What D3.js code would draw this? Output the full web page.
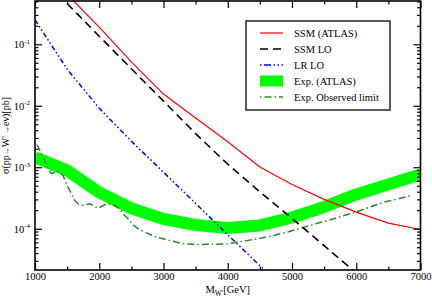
<!DOCTYPE html>
<html>
<head>
<meta charset="utf-8">
<script src="https://cdn.jsdelivr.net/npm/d3@7"></script>
<style>
  html, body { margin: 0; padding: 0; background: #fff; }
  svg { display: block; font-family: "Liberation Serif", "DejaVu Serif", serif; }
</style>
</head>
<body>
<svg id="chart" width="432" height="300"></svg>
<script>
// ---- data (mass in GeV, cross sections in pb) ----
const massGrid = [1000, 1500, 2000, 2500, 3000, 3500, 4000, 4500, 5000, 5500, 6000, 6500, 7000];
const ssmAtlas = [null, 0.65, 0.19, 0.0516, 0.0155, 0.0063, 0.00259, 0.00101, 5.25e-4, 3.0e-4, 1.86e-4, 1.23e-4, 9.7e-5];
const ssmLO    = [null, 0.46, 0.135, 0.040, 0.0119, 3.52e-3, 1.12e-3, 3.98e-4, 1.47e-4, 5.3e-5, 1.9e-5, 7e-6, 2.8e-6];
const lrLO     = [0.25, 0.0394, 9.1e-3, 2.65e-3, 8.3e-4, 2.58e-4, 8.0e-5, 2.5e-5, 8e-6, null, null, null, null];
const expAtlas = [1.45e-3, 8.9e-4, 3.89e-4, 2.14e-4, 1.44e-4, 1.15e-4, 1.03e-4, 1.13e-4, 1.52e-4, 2.26e-4, 3.61e-4, 5.26e-4, 7.66e-4];

const obsMass  = [1031, 1125, 1203, 1254, 1358, 1436, 1488, 1566, 1619, 1670, 1748, 1852, 1982, 2086, 2138, 2242, 2320, 2371, 2449, 2527, 2605, 2734, 2890, 2995, 3311, 3571, 3987, 4143, 4455, 4714, 4974, 5181, 5649, 6065, 6428, 6870];
const obsLimit = [2.34e-3, 1.47e-3, 9.48e-4, 7.86e-4, 8.57e-4, 7.38e-4, 5.4e-4, 3.71e-4, 2.88e-4, 2.55e-4, 2.39e-4, 2.55e-4, 2.16e-4, 2.45e-4, 2.55e-4, 2.39e-4, 2.11e-4, 1.75e-4, 1.45e-4, 1.16e-4, 9.96e-5, 8.57e-5, 7.27e-5, 6.84e-5, 5.67e-5, 5.52e-5, 5.67e-5, 6.03e-5, 6.84e-5, 7.74e-5, 9.1e-5, 1.06e-4, 1.45e-4, 1.98e-4, 2.70e-4, 3.48e-4];

const xMajor = [1000, 2000, 3000, 4000, 5000, 6000, 7000];
const xMinor = [1500, 2500, 3500, 4500, 5500, 6500];
const yMajorExp = [-4, -3, -2, -1];

const legendLabels = ["SSM (ATLAS)", "SSM LO", "LR LO", "Exp. (ATLAS)", "Exp. Observed limit"];

// ---- layout ----
const svg = d3.select("#chart");
const L = 35, R = 420.5, T = 1, B = 270;

const x = d3.scaleLinear().domain([1000, 7000]).range([L, R]);
const y = d3.scaleLog().domain([2.13e-5, 0.506]).range([B, T]);

// minor y ticks
const yMinor = [];
for (let e = -5; e <= 0; e++) {
  for (let k = 2; k <= 9; k++) {
    const v = k * Math.pow(10, e);
    if (v >= y.domain()[0] && v <= y.domain()[1]) yMinor.push(v);
  }
}
const yMajor = yMajorExp.map(e => Math.pow(10, e));

svg.append("defs").append("clipPath").attr("id", "plotclip")
  .append("rect").attr("x", L).attr("y", T).attr("width", R - L).attr("height", B - T);

const plot = svg.append("g").attr("clip-path", "url(#plotclip)");

const pairs = (xs, ys) => xs.map((m, i) => [m, ys[i]]).filter(p => p[1] != null);
const line = d3.line().x(d => x(d[0])).y(d => y(d[1]));

// green band
plot.append("path").attr("d", line(pairs(massGrid, expAtlas)))
  .attr("fill", "none").attr("stroke", "#00ff00").attr("stroke-width", 12)
  .attr("stroke-linecap", "butt").attr("stroke-linejoin", "round");

// observed limit
plot.append("path").attr("d", line(pairs(obsMass, obsLimit)))
  .attr("fill", "none").attr("stroke", "#2a8a2a").attr("stroke-width", 1.5)
  .attr("stroke-dasharray", "7,3,1.5,3");

// LR LO
plot.append("path").attr("d", line(pairs(massGrid, lrLO)))
  .attr("fill", "none").attr("stroke", "#0000ff").attr("stroke-width", 1.5)
  .attr("stroke-dasharray", "5,2.5,1.5,2.5,1.5,2.5");

// SSM LO
plot.append("path").attr("d", line(pairs(massGrid, ssmLO)))
  .attr("fill", "none").attr("stroke", "#000").attr("stroke-width", 1.6)
  .attr("stroke-dasharray", "8,5");

// SSM ATLAS
plot.append("path").attr("d", line(pairs(massGrid, ssmAtlas)))
  .attr("fill", "none").attr("stroke", "#ff0000").attr("stroke-width", 1.2);

// ---- axes ----
const axStyle = g => {
  g.select(".domain").remove();
  g.selectAll(".tick line").attr("stroke", "#000").attr("stroke-width", 1.2);
  g.selectAll(".tick text").attr("fill", "#000").attr("font-size", "10.5px")
    .attr("font-family", "Liberation Serif, serif");
};

// bottom
svg.append("g").attr("transform", `translate(0,${B})`)
  .call(d3.axisBottom(x).tickValues(xMajor).tickSize(-7).tickPadding(3).tickFormat(d3.format("d")))
  .call(axStyle);
svg.append("g").attr("transform", `translate(0,${B})`)
  .call(d3.axisBottom(x).tickValues(xMinor).tickSize(-3.5).tickFormat(""))
  .call(axStyle);
// top
svg.append("g").attr("transform", `translate(0,${T})`)
  .call(d3.axisTop(x).tickValues(xMajor).tickSize(-7).tickFormat(""))
  .call(axStyle);
svg.append("g").attr("transform", `translate(0,${T})`)
  .call(d3.axisTop(x).tickValues(xMinor).tickSize(-3.5).tickFormat(""))
  .call(axStyle);
// left
const leftG = svg.append("g").attr("transform", `translate(${L},0)`)
  .call(d3.axisLeft(y).tickValues(yMajor).tickSize(-7).tickPadding(5).tickFormat(() => "10"))
  .call(axStyle);
leftG.selectAll(".tick text").each(function(d) {
  d3.select(this).append("tspan").attr("font-size", "7px").attr("dy", "-4.5")
    .text(String(Math.round(Math.log10(d))));
});
svg.append("g").attr("transform", `translate(${L},0)`)
  .call(d3.axisLeft(y).tickValues(yMinor).tickSize(-3.5).tickFormat(""))
  .call(axStyle);
// right
svg.append("g").attr("transform", `translate(${R},0)`)
  .call(d3.axisRight(y).tickValues(yMajor).tickSize(-7).tickFormat(""))
  .call(axStyle);
svg.append("g").attr("transform", `translate(${R},0)`)
  .call(d3.axisRight(y).tickValues(yMinor).tickSize(-3.5).tickFormat(""))
  .call(axStyle);

// frame
svg.append("rect").attr("x", L).attr("y", T).attr("width", R - L).attr("height", B - T)
  .attr("fill", "none").attr("stroke", "#000").attr("stroke-width", 1.6);

// axis titles
const xt = svg.append("text").attr("x", (L + R) / 2).attr("y", 293)
  .attr("text-anchor", "middle").attr("font-size", "10.5px").attr("fill", "#000");
xt.append("tspan").text("M");
xt.append("tspan").attr("font-size", "7.5px").attr("dy", "2.5").text("W'");
xt.append("tspan").attr("dy", "-2.5").text("[GeV]");

const yt = svg.append("text").attr("transform", `translate(9,${(T + B) / 2}) rotate(-90)`)
  .attr("text-anchor", "middle").attr("font-size", "10px").attr("fill", "#000");
yt.append("tspan").text("σ(pp");
yt.append("tspan").attr("font-size", "8px").text("→");
yt.append("tspan").text("W'");
yt.append("tspan").attr("font-size", "8px").text(" →");
yt.append("tspan").text("eν)[pb]");

// ---- legend ----
const lg = svg.append("g");
lg.append("rect").attr("x", 246).attr("y", 21).attr("width", 144).attr("height", 89)
  .attr("fill", "#fff").attr("stroke", "#222").attr("stroke-width", 1.5);
const rowY = i => 33 + i * 16;
const lx0 = 260, lx1 = 283;
lg.append("line").attr("x1", lx0).attr("x2", lx1).attr("y1", rowY(0)).attr("y2", rowY(0))
  .attr("stroke", "#ff0000").attr("stroke-width", 1.2);
lg.append("line").attr("x1", lx0).attr("x2", lx1).attr("y1", rowY(1)).attr("y2", rowY(1))
  .attr("stroke", "#000").attr("stroke-width", 1.6).attr("stroke-dasharray", "8,5");
lg.append("line").attr("x1", lx0).attr("x2", lx1).attr("y1", rowY(2)).attr("y2", rowY(2))
  .attr("stroke", "#0000ff").attr("stroke-width", 1.5).attr("stroke-dasharray", "1.5,2.5,7,2.5,1.5,2.5");
lg.append("rect").attr("x", lx0).attr("y", rowY(3) - 5.5).attr("width", lx1 - lx0).attr("height", 11)
  .attr("fill", "#00ff00");
lg.append("line").attr("x1", lx0).attr("x2", lx1).attr("y1", rowY(4)).attr("y2", rowY(4))
  .attr("stroke", "#2a8a2a").attr("stroke-width", 1.5).attr("stroke-dasharray", "1.5,3,7,3");
legendLabels.forEach((t, i) => {
  lg.append("text").attr("x", 294).attr("y", rowY(i) + 3.5)
    .attr("font-size", "10.5px").attr("fill", "#000").text(t);
});
</script>
</body>
</html>
